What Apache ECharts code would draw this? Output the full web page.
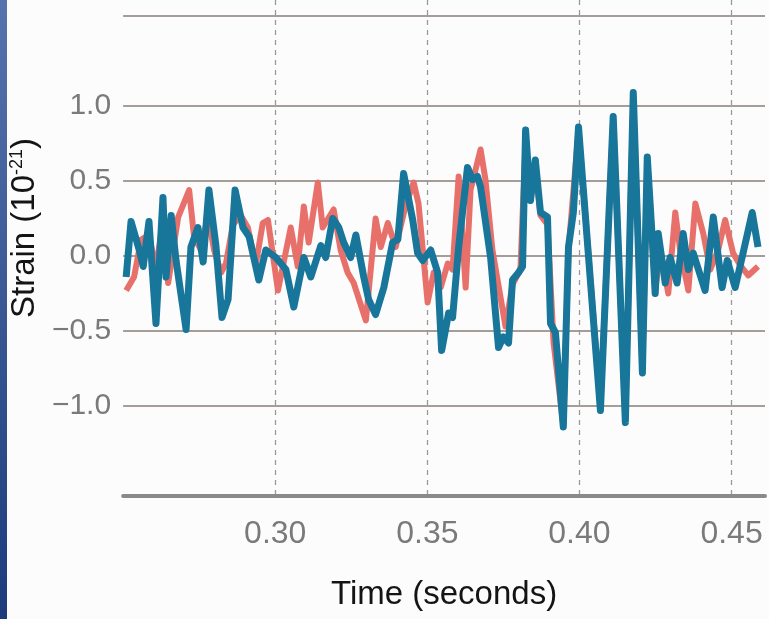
<!DOCTYPE html>
<html><head><meta charset="utf-8">
<script src="https://cdn.jsdelivr.net/npm/echarts@6/dist/echarts.min.js"></script>
<style>html,body{margin:0;padding:0;background:#fcfcfc}#c{width:769px;height:619px}</style>
</head><body><div id="c"></div>
<script>
// Blue trace (time in s, strain in 1e-21)
const blueTime = [0.2510,0.2526,0.2553,0.2566,0.2585,0.2608,0.2631,0.2641,0.2658,0.2674,0.2707,0.2723,0.2746,0.2763,0.2782,0.2805,0.2825,0.2845,0.2868,0.2894,0.2914,0.2946,0.2969,0.3002,0.3035,0.3061,0.3094,0.3117,0.3150,0.3166,0.3189,0.3209,0.3225,0.3248,0.3265,0.3291,0.3307,0.3330,0.3357,0.3386,0.3403,0.3422,0.3452,0.3468,0.3485,0.3511,0.3534,0.3547,0.3570,0.3583,0.3603,0.3632,0.3649,0.3665,0.3675,0.3708,0.3734,0.3750,0.3767,0.3780,0.3800,0.3813,0.3823,0.3839,0.3855,0.3872,0.3895,0.3905,0.3921,0.3947,0.3964,0.3980,0.3997,0.4069,0.4111,0.4151,0.4177,0.4207,0.4223,0.4239,0.4249,0.4259,0.4282,0.4298,0.4321,0.4341,0.4358,0.4374,0.4413,0.4440,0.4469,0.4486,0.4512,0.4538,0.4568,0.4587];
const blueStrain = [-0.14,0.23,0.04,-0.07,0.23,-0.45,0.39,-0.14,0.27,-0.03,-0.49,0.06,0.19,-0.04,0.44,0.07,-0.41,-0.29,0.44,0.19,0.13,-0.16,0.04,-0.01,-0.09,-0.34,-0.01,-0.14,0.07,-0.01,0.25,0.19,0.09,-0.01,0.14,-0.14,-0.29,-0.39,-0.21,0.09,0.11,0.55,0.24,0.02,-0.03,0.04,-0.11,-0.63,-0.38,-0.41,0.06,0.59,0.51,0.53,0.46,-0.01,-0.61,-0.54,-0.58,-0.16,-0.11,-0.07,0.84,0.37,0.64,0.29,0.26,-0.45,-0.51,-1.14,0.06,0.29,0.86,-1.03,0.93,-1.11,1.09,-0.78,0.66,0.13,-0.25,0.15,-0.18,-0.01,-0.18,0.15,-0.09,0.02,-0.23,0.26,-0.21,-0.03,-0.21,0.02,0.29,0.06];
// Red trace
const redTime = [0.2510,0.2536,0.2559,0.2585,0.2608,0.2631,0.2648,0.2681,0.2717,0.2733,0.2756,0.2779,0.2799,0.2822,0.2838,0.2861,0.2887,0.2910,0.2936,0.2959,0.2976,0.3009,0.3051,0.3074,0.3094,0.3110,0.3140,0.3156,0.3192,0.3215,0.3238,0.3258,0.3298,0.3330,0.3347,0.3370,0.3396,0.3429,0.3455,0.3471,0.3501,0.3521,0.3544,0.3567,0.3583,0.3603,0.3626,0.3642,0.3675,0.3691,0.3714,0.3757,0.3780,0.3806,0.3823,0.3839,0.3855,0.3872,0.3895,0.3915,0.3947,0.3964,0.3997,0.4069,0.4111,0.4151,0.4177,0.4207,0.4223,0.4239,0.4249,0.4266,0.4292,0.4315,0.4331,0.4358,0.4381,0.4407,0.4430,0.4456,0.4479,0.4505,0.4528,0.4555,0.4587];
const redStrain = [-0.23,-0.14,0.11,0.14,-0.09,0.24,-0.18,0.26,0.44,0.13,0.04,0.27,0.04,-0.11,-0.05,0.21,0.27,0.19,-0.06,0.22,0.24,-0.23,0.19,-0.07,0.33,0.09,0.49,0.19,0.31,0.04,-0.11,-0.18,-0.43,0.25,0.06,0.22,0.06,0.34,0.49,0.35,-0.31,-0.11,-0.21,-0.05,-0.09,0.53,-0.21,0.44,0.71,0.51,0.04,-0.47,-0.19,-0.09,0.77,0.37,0.61,0.27,0.21,-0.58,-1.13,0.04,0.84,-0.99,0.91,-1.08,1.06,-0.76,0.64,0.11,-0.23,0.04,-0.25,0.29,0.04,-0.23,0.35,0.15,-0.09,0.04,0.24,0.02,-0.06,-0.13,-0.07];

const xTicks = [0.30, 0.35, 0.40, 0.45];
const yTickLabels = [-1.0, -0.5, 0.0, 0.5, 1.0];
const yGridLines = [-1.6, -1.0, -0.5, 0.0, 0.5, 1.0, 1.6];

const chart = echarts.init(document.getElementById('c'));
chart.setOption({
  animation: false,
  backgroundColor: '#fcfcfc',
  graphic: [{
    type: 'rect', left: 0, top: 0, z: 10,
    shape: { width: 7, height: 619 },
    style: { fill: new echarts.graphic.LinearGradient(0, 0, 0, 1, [
      { offset: 0, color: '#5773ad' }, { offset: 1, color: '#1d3b7b' }]) }
  }],
  grid: { left: 122, right: 4, top: 0, bottom: 123 },
  xAxis: {
    type: 'value', min: 0.25, max: 0.461,
    axisLine: { show: true, onZero: false, lineStyle: { color: '#8a8a8a', width: 4 } },
    axisTick: { show: false, customValues: xTicks },
    axisLabel: { customValues: xTicks, formatter: v => v.toFixed(2), fontSize: 32,
      fontFamily: 'Liberation Sans', color: '#7a7a7a', margin: 22 },
    splitLine: { show: true, lineStyle: { type: [5, 5], color: '#9a9a9a', width: 1.3 } },
    name: 'Time (seconds)', nameLocation: 'middle', nameGap: 82,
    nameTextStyle: { fontSize: 33, fontFamily: 'Liberation Sans', color: '#141414' }
  },
  yAxis: {
    type: 'value', min: -1.6, max: 1.7067,
    axisLine: { show: false },
    axisTick: { show: false, customValues: yGridLines },
    axisLabel: { customValues: yTickLabels, fontSize: 30, fontFamily: 'Liberation Sans',
      color: '#7a7a7a', margin: 12,
      formatter: v => (v < 0 ? '\u2212' : '') + Math.abs(v).toFixed(1) },
    splitLine: { show: true, lineStyle: { color: '#8a7d77', width: 1.5 } },
    name: '{a|Strain (10}{s|-21}{a|)}', nameLocation: 'middle', nameGap: 72, nameRotate: 90,
    nameTextStyle: {
      padding: [0, 0, 0, 40],
      rich: {
        a: { fontSize: 33, fontFamily: 'Liberation Sans', color: '#141414' },
        s: { fontSize: 18, fontFamily: 'Liberation Sans', color: '#141414', padding: [0, 0, 14, 0] }
      }
    }
  },
  series: [
    { type: 'line', data: redTime.map((t, i) => [t, redStrain[i]]), showSymbol: false,
      lineStyle: { width: 6, color: '#e8706a', join: 'round' }, z: 2 },
    { type: 'line', data: blueTime.map((t, i) => [t, blueStrain[i]]), showSymbol: false,
      lineStyle: { width: 7, color: '#17769a', join: 'round' }, z: 3 }
  ]
});
</script></body></html>
